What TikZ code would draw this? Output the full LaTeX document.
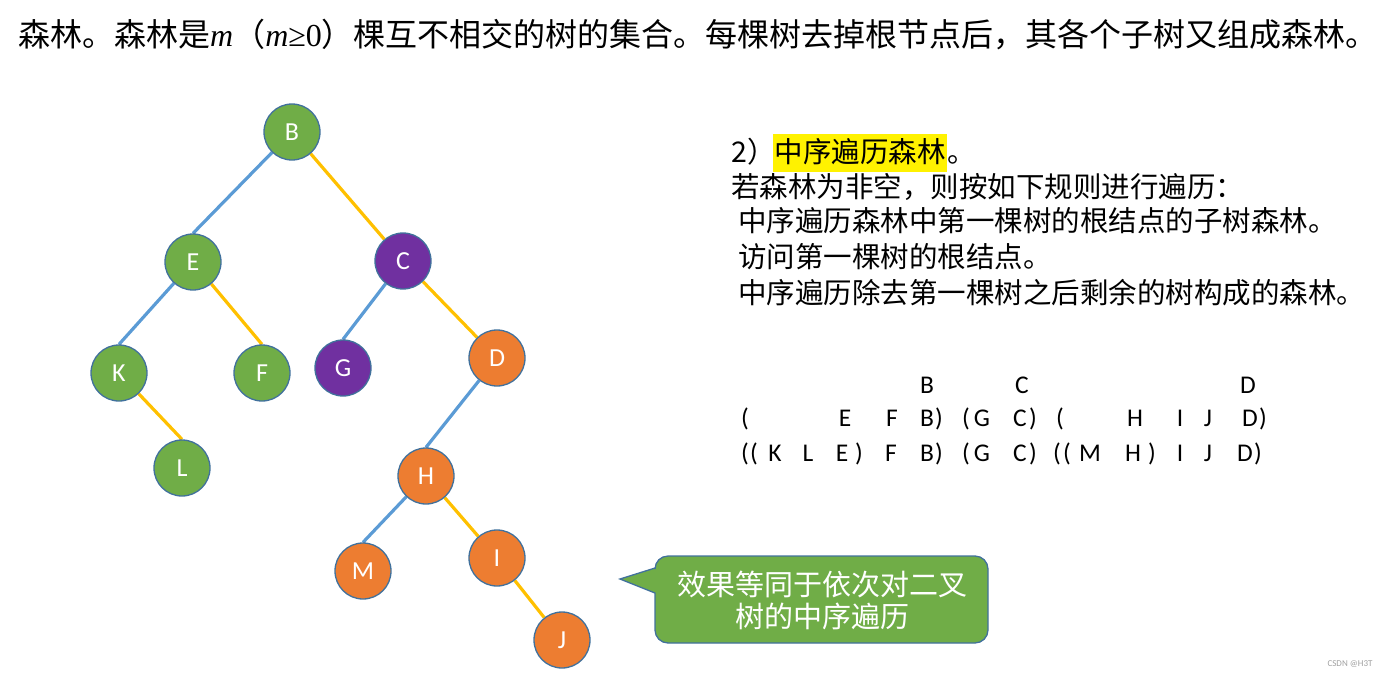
\documentclass[tikz,border=0pt]{standalone}
\usepackage{fontspec}
\usetikzlibrary{backgrounds}
\setmainfont{Carlito}
\newfontfamily\cjk{Noto Sans CJK SC}
\newfontfamily\tnr{Liberation Serif}
\definecolor{ngreen}{HTML}{70AD47}
\definecolor{npurple}{HTML}{7030A0}
\definecolor{norange}{HTML}{ED7D31}
\definecolor{nborder}{HTML}{41719C}
\definecolor{eblue}{HTML}{5B9BD5}
\definecolor{eyellow}{HTML}{FFC000}
\definecolor{wmgray}{HTML}{A0A0A0}
\tikzset{
  tnode/.style={circle, minimum size=56pt, inner sep=0pt, draw=nborder, line width=1.3pt,
    text=white, font=\fontsize{26}{26}\selectfont},
  gnode/.style={tnode, fill=ngreen},
  pnode/.style={tnode, fill=npurple},
  onode/.style={tnode, fill=norange},
  bedge/.style={draw=eblue, line width=3.2pt},
  yedge/.style={draw=eyellow, line width=3.2pt},
  tok/.style={anchor=base, inner sep=0pt, font=\fontsize{25.5}{25.5}\selectfont},
  cjktext/.style={anchor=base west, inner sep=0pt, font=\cjk\fontsize{28.5}{34}\selectfont},
  callout/.style={fill=ngreen, draw=nborder, line width=1.3pt},
}
\begin{document}
\begin{tikzpicture}[x=1pt,y=-1pt]
\useasboundingbox (0,0) rectangle (1389,678);

% title
\node[anchor=west, inner sep=0pt, font=\cjk\fontsize{32}{36}\selectfont] (title) at (18,35)
  {森林。森林是{\tnr\itshape m}（{\tnr\itshape m}{\tnr ≥0}）棵互不相交的树的集合。每棵树去掉根节点后，其各个子树又组成森林。};

% tree nodes
\node[gnode] (B) at (292,132) {B};
\node[gnode] (E) at (193,262) {E};
\node[pnode] (C) at (403,261) {C};
\node[gnode] (K) at (119,373) {K};
\node[gnode] (F) at (262,373) {F};
\node[pnode] (G) at (343,368) {G};
\node[onode] (D) at (497,358) {D};
\node[gnode] (L) at (182,468) {L};
\node[onode] (H) at (426,476) {H};
\node[onode] (M) at (363,571) {M};
\node[onode] (I) at (497,558) {I};
\node[onode] (J) at (562,640) {J};

% edges (behind the nodes)
\begin{scope}[on background layer]
\path[bedge] (B) -- (E.north);
\path[yedge] (B) -- (C);
\path[bedge] (E) -- (K.north);
\path[yedge] (E) -- (F.north);
\path[yedge] (K) -- (L.north);
\path[bedge] (C) -- (G.north);
\path[yedge] (C) -- (D);
\path[bedge] (D) -- (H.north);
\path[bedge] (H) -- (M.north);
\path[yedge] (H) -- (I);
\path[yedge] (I) -- (J);
\end{scope}

% right text
\node[cjktext] (l1a) at (731,162) {2）};
\node[anchor=base west, inner xsep=1.5pt, inner ysep=0pt, fill=yellow,
  text height=28pt, text depth=9.5pt, font=\cjk\fontsize{28.5}{34}\selectfont] (l1b) at (773,162) {中序遍历森林};
\node[cjktext] (l1c) at (l1b.base east) {。};
\node[cjktext] (l2) at (731,197) {若森林为非空，则按如下规则进行遍历：};
\node[cjktext] (l3) at (738,231) {中序遍历森林中第一棵树的根结点的子树森林。};
\node[cjktext] (l4) at (738,267) {访问第一棵树的根结点。};
\node[cjktext] (l5) at (738,303) {中序遍历除去第一棵树之后剩余的树构成的森林。};

% letter rows
\foreach \t/\x [count=\i] in {B/927, C/1022, D/1248}
  \node[tok] (ra\i) at (\x,393) {\t};
\foreach \t/\x [count=\i] in {{(}/745, E/845, F/892, B/927, {)}/939, {(}/966, G/982, C/1020, {)}/1033,
  {(}/1060, H/1135, I/1180, J/1208, D/1250, {)}/1263}
  \node[tok] (rb\i) at (\x,426) {\t};
\foreach \t/\x [count=\i] in {{(}/745, {(}/754, K/775, L/808, E/842, {)}/859, F/891, B/927, {)}/939,
  {(}/966, G/982, C/1020, {)}/1033, {(}/1057, {(}/1067, M/1090, H/1133, {)}/1152, I/1180, J/1208,
  D/1245, {)}/1258}
  \node[tok] (rc\i) at (\x,461) {\t};

% callout
\draw[callout] (655,568) -- (620,579) -- (655,593) -- (655,630)
  arc[start angle=180, end angle=90, radius=13] -- (975,643)
  arc[start angle=90, end angle=0, radius=13] -- (988,569)
  arc[start angle=0, end angle=-90, radius=13] -- (668,556)
  arc[start angle=270, end angle=180, radius=13] -- cycle;
\node[align=center, text=white, inner sep=0pt, font=\cjk\fontsize{29}{32}\selectfont] (ctext) at (822,600)
  {效果等同于依次对二叉\\树的中序遍历};

% watermark
\node[text=wmgray, inner sep=0pt, font=\fontsize{9}{9}\selectfont] (wm) at (1350,664) {CSDN @H3T};
\end{tikzpicture}
\end{document}
